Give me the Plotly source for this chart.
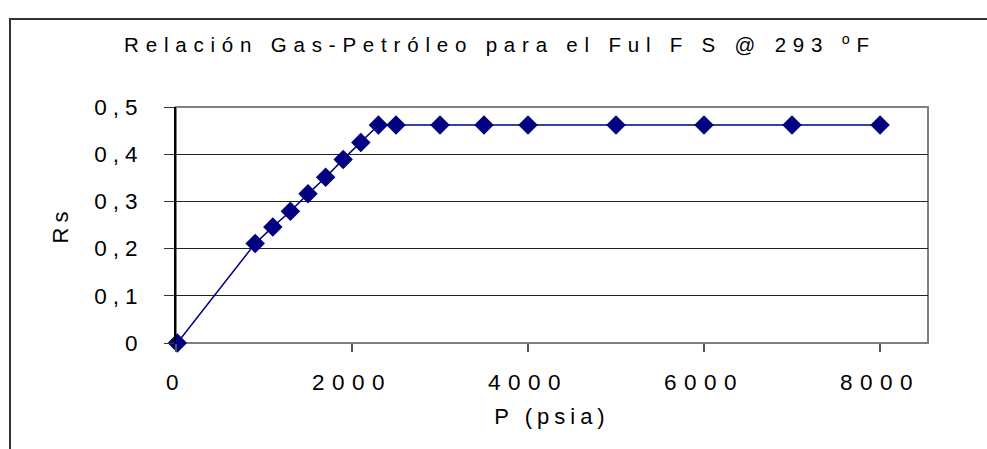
import plotly.graph_objects as go

# Solution gas-oil ratio vs pressure
pressure_psia = [14.7, 900, 1100, 1300, 1500, 1700, 1900, 2100, 2300,
                 2500, 3000, 3500, 4000, 5000, 6000, 7000, 8000]
rs_values = [0.0, 0.211, 0.246, 0.279, 0.316, 0.351, 0.389, 0.425, 0.462,
             0.462, 0.462, 0.462, 0.462, 0.462, 0.462, 0.462, 0.462]
x_ticks = [0, 2000, 4000, 6000, 8000]
y_ticks = [0, 0.1, 0.2, 0.3, 0.4, 0.5]

W, H = 987, 449
L, R, T, B = 176, 59, 107, 106
PW, PH = W - L - R, H - T - B

FONT = "Liberation Sans, Arial, sans-serif"
NAVY = "#000080"

fig = go.Figure()
fig.add_trace(go.Scatter(
    x=pressure_psia, y=rs_values, mode="lines+markers",
    line=dict(color=NAVY, width=1.5),
    marker=dict(symbol="diamond", size=15, color=NAVY),
    cliponaxis=False, showlegend=False,
))


def px_x(p):
    return (p - L) / PW


def px_y(p):
    return (H - B - p) / PH


fig.update_layout(
    width=W, height=H,
    margin=dict(l=L, r=R, t=T, b=B),
    paper_bgcolor="white", plot_bgcolor="white",
    separators=", ",
    font=dict(family=FONT, size=21, color="black"),
    title=dict(
        text="Relación Gas-Petróleo para el Ful F S @ 293 <sup>o</sup>F",
        x=500 / W, xref="container", xanchor="center",
        y=1 - 45 / H, yref="container", yanchor="middle",
        font=dict(family=FONT, size=20.5, color="black"),
    ),
    xaxis=dict(
        range=[0, 8545], tickvals=x_ticks, showgrid=False, zeroline=False,
        showline=False, ticks="outside", ticklen=8, tickcolor="#555",
        tickwidth=2, tickfont=dict(size=22.5), ticklabelstandoff=11,
        title=dict(text="P (psia)", font=dict(size=22), standoff=14),
    ),
    yaxis=dict(
        range=[0, 0.5], tickvals=y_ticks, showgrid=True, gridcolor="#222",
        gridwidth=1, zeroline=False, showline=True, linecolor="black",
        linewidth=2, ticks="outside", ticklen=10, tickcolor="#333",
        tickwidth=1, tickfont=dict(size=22.5), ticklabelstandoff=16,
        title=dict(text="Rs", font=dict(size=22), standoff=38),
    ),
    shapes=[
        # plot area frame
        dict(type="rect", xref="paper", yref="paper", x0=0, x1=1, y0=0, y1=1,
             line=dict(color="#808080", width=2), layer="below"),
        # chart area frame
        dict(type="rect", xref="paper", yref="paper",
             x0=px_x(10), x1=px_x(W + 20), y0=px_y(H + 20), y1=px_y(19),
             line=dict(color="#333", width=2), layer="below"),
    ],
)

# Wide letter spacing for every text element
spacing_js = """
var gd = document.getElementById('{plot_id}');
function spaceText() {
  gd.querySelectorAll('text.gtitle').forEach(function(t){ t.style.letterSpacing = '6.8px'; });
  gd.querySelectorAll('g.xtick text').forEach(function(t){ t.style.letterSpacing = '7.5px'; });
  gd.querySelectorAll('g.ytick text').forEach(function(t){ t.style.letterSpacing = '6px'; });
  gd.querySelectorAll('text.xtitle, text.ytitle').forEach(function(t){ t.style.letterSpacing = '5px'; });
}
spaceText();
gd.on('plotly_afterplot', spaceText);
"""

fig.write_html("out.html", post_script=spacing_js)
